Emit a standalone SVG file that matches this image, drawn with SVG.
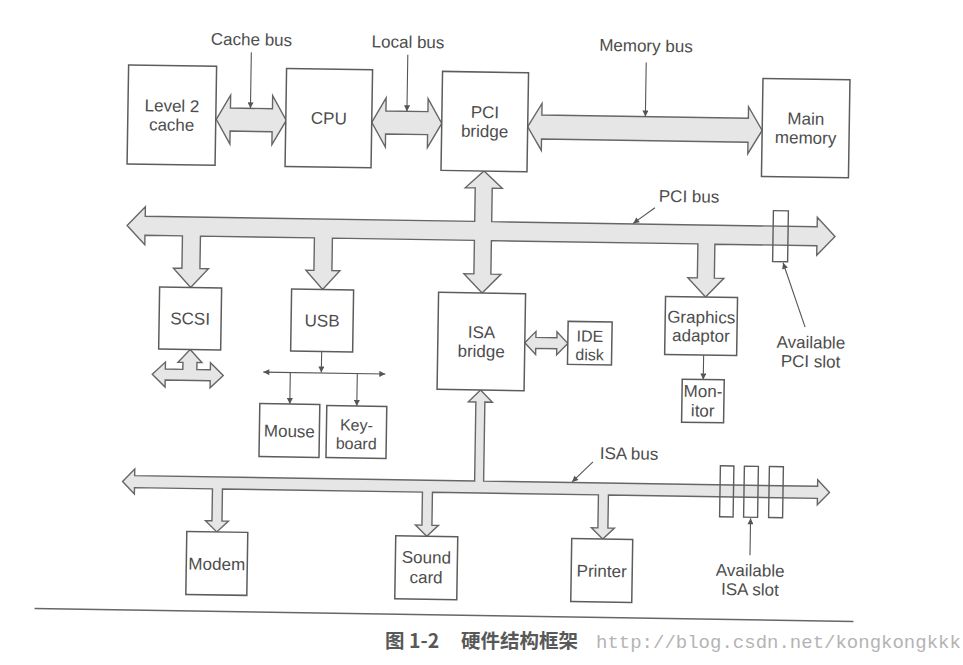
<svg xmlns="http://www.w3.org/2000/svg" width="963" height="665" viewBox="0 0 963 665">
<style>
.box{fill:#fff;stroke:#5c5c5c;stroke-width:1.5}
.bus{fill:#e6e6e6;stroke:#666;stroke-width:1.4;stroke-linejoin:miter}
.slot{fill:none;stroke:#5c5c5c;stroke-width:1.4}
.ptr{fill:none;stroke:#555;stroke-width:1.1}
text{font-family:"Liberation Sans",Arial,sans-serif;font-size:17px;fill:#4d4d4d;text-anchor:middle}
.sm{font-size:16px}
.cap{font-family:"Noto Sans CJK SC","Noto Sans",sans-serif;font-size:19.5px;font-weight:bold;fill:#585858;text-anchor:start}
.url{font-family:"Liberation Mono",monospace;font-size:19px;fill:#b4b4b4;text-anchor:start}
</style>
<defs>
<marker id="ah" viewBox="0 0 10 10" refX="10" refY="5" markerUnits="userSpaceOnUse" markerWidth="8" markerHeight="6" orient="auto-start-reverse">
<path d="M0,0 L10,5 L0,10 Z" fill="#555"/>
</marker>
<linearGradient id="fade" x1="0" x2="1" y1="0" y2="0">
<stop offset="0" stop-color="#fff"/>
<stop offset="1" stop-color="#888"/>
</linearGradient>
</defs>
<rect width="963" height="665" fill="#fff"/>
<line x1="760" y1="2.5" x2="940" y2="2.5" stroke="url(#fade)" stroke-width="1.5"/>
<g transform="rotate(0.9 480 330)">
<g id="connectors">
<path class="bus" d="M213,123.5 L227,99 L227,112 L269,112 L269,99 L283,123.5 L269,148 L269,135 L227,135 L227,148 Z"/>
<path class="bus" d="M368.5,124 L382.5,99.5 L382.5,112.5 L424.5,112.5 L424.5,99.5 L438.5,124 L424.5,148.5 L424.5,135.5 L382.5,135.5 L382.5,148.5 Z"/>
<path class="bus" d="M524.5,126 L538.5,102.5 L538.5,114 L745,114 L745,102.5 L759,126 L745,149.5 L745,138 L538.5,138 L538.5,149.5 Z"/>
<path class="bus" d="M125.5,231 L143.5,212 L143.5,221.5 L473,221.5 L473,188 L463,188 L481.5,171 L500,188 L490,188 L490,221.5 L815.5,221.5 L815.5,212 L833.5,231 L815.5,250 L815.5,240.5 L713.5,240.5 L713.5,274.5 L723,274.5 L705,293.5 L687,274.5 L696.5,274.5 L696.5,240.5 L490,240.5 L490,274 L500,274 L481.5,293 L463,274 L473,274 L473,240.5 L331,240.5 L331,273 L339,273 L322,292 L305,273 L313,273 L313,240.5 L199,240.5 L199,273 L207.5,273 L190,292 L172.5,273 L181,273 L181,240.5 L143.5,240.5 L143.5,250 Z"/>
<path class="bus" d="M125,487 L137,474.5 L137,481 L477,481 L477,402 L469.5,402 L481.5,390 L493.5,402 L486,402 L486,481 L820,481 L820,474.5 L832,487 L820,499.5 L820,493 L611,493 L611,526 L617.5,526 L606,537 L594.5,526 L601,526 L601,493 L435,493 L435,526 L441.5,526 L430,537 L418.5,526 L425,526 L425,493 L225,493 L225,525 L231.5,525 L220,536 L208.5,525 L215,525 L215,493 L137,493 L137,499.5 Z"/>
<path class="bus" d="M525,342 L536,330.5 L536,336.5 L557,336.5 L557,330.5 L568,342 L557,353.5 L557,347.5 L536,347.5 L536,353.5 Z"/>
<path class="bus" d="M190.5,354 L202.5,367 L197.5,367 L197.5,374 L211,374 L211,367 L224,379.5 L211,392 L211,385 L166,385 L166,392 L153,379.5 L166,367 L166,374 L183.5,374 L183.5,367 L178.5,367 Z"/>
<rect class="slot" x="771.5" y="206" width="15" height="51"/>
<rect class="slot" x="722.5" y="462" width="13.5" height="51"/>
<rect class="slot" x="746.5" y="462" width="14" height="51"/>
<rect class="slot" x="771.5" y="462" width="14" height="51"/>
<line class="ptr" x1="322" y1="354" x2="322" y2="375" marker-end="url(#ah)"/>
<line class="ptr" x1="264" y1="375.5" x2="386" y2="375.5" marker-start="url(#ah)" marker-end="url(#ah)"/>
<line class="ptr" x1="291" y1="375.5" x2="291" y2="407" marker-end="url(#ah)"/>
<line class="ptr" x1="358" y1="375.5" x2="358" y2="408" marker-end="url(#ah)"/>
<line class="ptr" x1="704" y1="351.5" x2="704" y2="376" marker-end="url(#ah)"/>
<line class="ptr" x1="247" y1="56" x2="247" y2="112" marker-end="url(#ah)"/>
<line class="ptr" x1="403.5" y1="56" x2="403.5" y2="112.5" marker-end="url(#ah)"/>
<line class="ptr" x1="642" y1="60" x2="642" y2="114" marker-end="url(#ah)"/>
<line class="ptr" x1="653" y1="205" x2="631.5" y2="221" marker-end="url(#ah)"/>
<line class="ptr" x1="805" y1="322" x2="782" y2="258" marker-end="url(#ah)"/>
<line class="ptr" x1="595" y1="460" x2="574.5" y2="480.5" marker-end="url(#ah)"/>
<line class="ptr" x1="753.5" y1="551" x2="753.5" y2="514" marker-end="url(#ah)"/>
</g>
<g id="labels">
<text x="247" y="49">Cache bus</text>
<text x="403.5" y="49">Local bus</text>
<text x="641.5" y="49">Memory bus</text>
<text x="687" y="199">PCI bus</text>
<text x="811" y="343">Available</text>
<text x="811" y="362">PCI slot</text>
<text x="631" y="457">ISA bus</text>
<text x="754" y="572">Available</text>
<text x="754" y="591">ISA slot</text>
</g>
<g id="l2cache"><rect class="box" x="124.5" y="70.5" width="88" height="99"/><text x="168.5" y="116.5">Level 2</text><text x="168.5" y="135.5">cache</text></g>
<g id="cpu"><rect class="box" x="282.5" y="71.5" width="86" height="98"/><text x="325.5" y="126.5">CPU</text></g>
<g id="pcibridge"><rect class="box" x="438.5" y="72" width="86" height="99"/><text x="481.5" y="118">PCI</text><text x="481.5" y="137">bridge</text></g>
<g id="mainmemory"><rect class="box" x="759" y="74" width="87" height="98"/><text x="802.5" y="119.5">Main</text><text x="802.5" y="138.5">memory</text></g>
<g id="scsi"><rect class="box" x="159" y="292" width="62" height="62"/><text x="190" y="329">SCSI</text></g>
<g id="usb"><rect class="box" x="291" y="292" width="62" height="62"/><text x="322" y="329">USB</text></g>
<g id="isabridge"><rect class="box" x="438" y="293" width="87" height="97"/><text x="481.5" y="338">ISA</text><text x="481.5" y="357">bridge</text></g>
<g id="idedisk"><rect class="box" x="568" y="320" width="44" height="43"/><text class="sm" x="590" y="340">IDE</text><text class="sm" x="590" y="358.5">disk</text></g>
<g id="graphics"><rect class="box" x="665" y="293.5" width="72" height="58"/><text x="701" y="319.5">Graphics</text><text x="701" y="338">adaptor</text></g>
<g id="monitor"><rect class="box" x="683" y="376" width="42" height="43"/><text x="704" y="393.5">Mon-</text><text x="704" y="413">itor</text></g>
<g id="mouse"><rect class="box" x="261" y="407" width="60" height="53"/><text x="291" y="440">Mouse</text></g>
<g id="keyboard"><rect class="box" x="328" y="408" width="60" height="52"/><text class="sm" x="358" y="432.5">Key-</text><text class="sm" x="358" y="451">board</text></g>
<g id="modem"><rect class="box" x="190" y="536" width="61" height="63"/><text x="220.5" y="574">Modem</text></g>
<g id="soundcard"><rect class="box" x="399" y="537" width="62" height="63"/><text x="430" y="564">Sound</text><text x="430" y="584">card</text></g>
<g id="printer"><rect class="box" x="575" y="537" width="61" height="63"/><text x="605.5" y="575">Printer</text></g>
<line x1="39" y1="615.5" x2="858" y2="615.5" stroke="#666" stroke-width="1.5"/>
</g>
<g id="caption">
<text class="cap" x="385" y="648">图 1-2</text>
<text class="cap" x="461" y="648">硬件结构框架</text>
<text class="url" x="596" y="648">http://blog.csdn.net/kongkongkkk</text>
</g>
</svg>
